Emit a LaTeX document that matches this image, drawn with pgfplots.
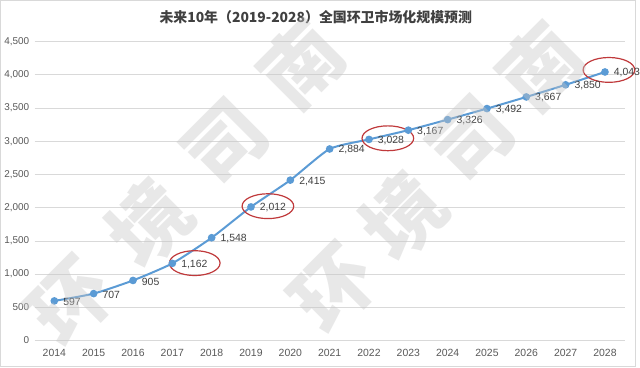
\documentclass[border=0pt]{standalone}
\usepackage{pgfplots}
\pgfplotsset{compat=1.18}
\usepackage{fontspec}
\setmainfont{Liberation Sans}
\newfontfamily\cjk{Noto Sans CJK SC}
\definecolor{lineblue}{HTML}{5B9BD5}
\definecolor{gridgray}{HTML}{D9D9D9}
\definecolor{ticktext}{HTML}{595959}
\definecolor{labeltext}{HTML}{404040}
\definecolor{ellred}{HTML}{C0393B}
\begin{document}
\begin{tikzpicture}[x=1pt,y=1pt]
\path[draw=gridgray, line width=0.8pt, fill=white] (0.5,0.5) rectangle (639.5,369.5);
\node[font=\cjk\bfseries\fontsize{14}{16}\selectfont, text=labeltext] at (318,353) {未来10年（2019-2028）全国环卫市场化规模预测};
\begin{axis}[
  at={(35pt,27pt)}, anchor=south west,
  scale only axis, width=594pt, height=301pt,
  xmin=2013.5, xmax=2028.5, ymin=0, ymax=4500,
  xtick={2014,2015,...,2028},
  ytick={0,500,...,4500},
  scaled y ticks=false,
  axis line style={draw=none},
  tick style={draw=none},
  ymajorgrids, grid style={draw=gridgray, line width=0.8pt},
  /pgf/number format/assume math mode=true,
  xticklabel style={/pgf/number format/1000 sep={}, font=\fontsize{10.5}{12}\selectfont, text=ticktext, yshift=-5pt},
  yticklabel style={/pgf/number format/1000 sep={,}, font=\fontsize{10}{12}\selectfont, text=ticktext, xshift=-2pt},
  nodes near coords,
  point meta=y,
  every node near coord/.style={anchor=west, inner sep=0pt, xshift=8pt, yshift=-1pt,
     font=\fontsize{10.5}{12}\selectfont, text=labeltext,
     /pgf/number format/1000 sep={,}, /pgf/number format/fixed, /pgf/number format/precision=0},
  clip=false,
]
\addplot[color=lineblue, line width=2pt, smooth, tension=0.35, mark=*, mark size=2.8pt, mark options={fill=lineblue, draw=lineblue}]
coordinates {
(2014,597) (2015,707) (2016,905) (2017,1162) (2018,1548) (2019,2012) (2020,2415)
(2021,2884) (2022,3028) (2023,3167) (2024,3326) (2025,3492) (2026,3667) (2027,3850) (2028,4043)
};
\draw[ellred, line width=1.2pt] (axis cs:2017.57,1166) ellipse (25.5pt and 12.5pt);
\draw[ellred, line width=1.2pt] (axis cs:2019.43,2023) ellipse (26pt and 12.5pt);
\draw[ellred, line width=1.2pt] (axis cs:2022.48,3045) ellipse (26pt and 12.5pt);
\draw[ellred, line width=1.2pt] (axis cs:2028.1,4074) ellipse (26pt and 12.5pt);
\end{axis}
\begin{scope}[every node/.style={font=\cjk\bfseries\fontsize{80}{80}\selectfont, text=black!22, text opacity=0.4, rotate=45, inner sep=0pt}]
\node at (72,65) {环};
\node at (150,145) {境};
\node at (228,225) {司};
\node at (304,305) {南};
\node at (337,78) {环};
\node at (406,153) {境};
\node at (475,228) {司};
\node at (544,303) {南};
\end{scope}
\end{tikzpicture}
\end{document}
